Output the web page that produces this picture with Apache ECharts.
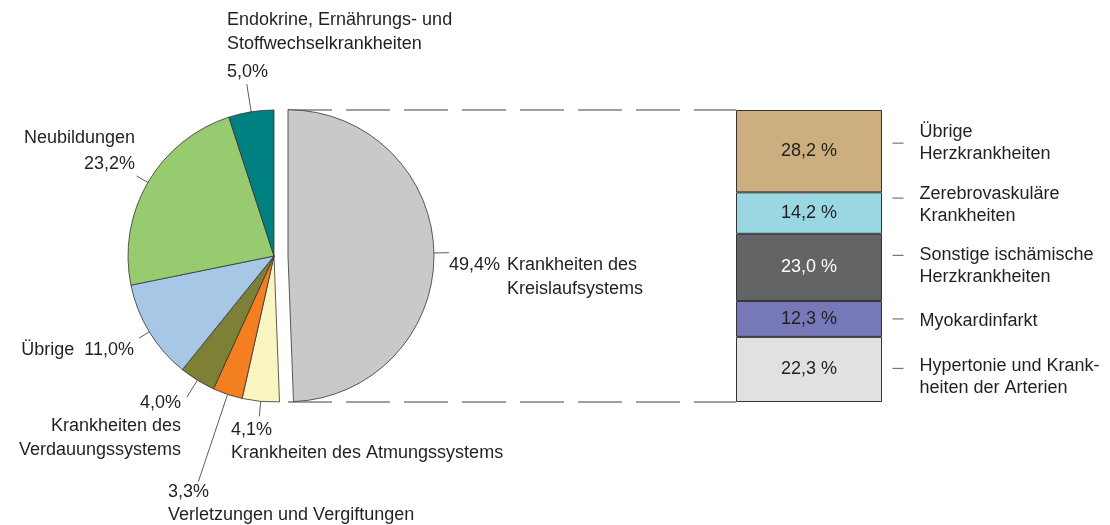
<!DOCTYPE html>
<html>
<head>
<meta charset="utf-8">
<script src="https://cdn.jsdelivr.net/npm/echarts@6/dist/echarts.min.js"></script>
<style>
html, body { margin: 0; background: #fff; }
#container { width: 1110px; height: 525px; }
</style>
</head>
<body>
<div id="container"></div>
<script>
// Todesursachen (Kreisdiagramm) und Aufschlüsselung Kreislaufsystem (Säule)
var pieNames = [
    'Krankheiten des\nKreislaufsystems',
    'Krankheiten des Atmungssystems',
    'Verletzungen und Vergiftungen',
    'Krankheiten des\nVerdauungssystems',
    'Übrige',
    'Neubildungen',
    'Endokrine, Ernährungs- und\nStoffwechselkrankheiten'
];
var pieValues = [49.4, 4.1, 3.3, 4.0, 11.0, 23.2, 5.0];
var pieColors = ['#c8c9cb', '#faf6c2', '#f47f20', '#7e8035', '#a7c7e7', '#98cb70', '#008080'];

// Säule von unten nach oben
var barNames = [
    'Hypertonie und Krank-\nheiten der Arterien',
    'Myokardinfarkt',
    'Sonstige ischämische\nHerzkrankheiten',
    'Zerebrovaskuläre\nKrankheiten',
    'Übrige\nHerzkrankheiten'
];
var barValues = [22.3, 12.3, 23.0, 14.2, 28.2];
var barColors = ['#e0e1e3', '#7778b8', '#636466', '#99d8e3', '#cdae7f'];
var barTextColors = ['#231f20', '#231f20', '#ffffff', '#231f20', '#231f20'];

var pieCx = 274, pieCy = 256, pieR = 146, explode = 14;
var barLeft = 736, barTop = 110, barW = 146, barH = 292;
var txt = '#231f20';
var fontFam = '"Liberation Sans", Arial, sans-serif';
var fs = 18;

function fmt(v) {
    return v.toFixed(1).replace('.', ',');
}

// Label-Texte
function pieLabel(i) {
    var p = fmt(pieValues[i]) + '%';
    var lines = pieNames[i].split('\n');
    switch (i) {
        case 0:
            return '{p|' + p + '}{n|' + lines[0] + '}\n{s|}{n|' + lines[1] + '}';
        case 1:
        case 2:
        case 3:
            return p + '\n' + pieNames[i];
        case 4:
            return pieNames[i] + '  ' + p;
        case 5:
            return '{r|' + pieNames[i] + '}\n{r|' + p + '}';
        case 6:
            return '{n|' + lines[0] + '}\n{n|' + lines[1] + '}\n{q|' + p + '}';
    }
}

var lineLen = [15, 15, 92, 20, 12, 13, 28];
var pieLabelPos = [
    {x: 448, y: 244, align: 'left'},
    {x: 231, y: 418, align: 'left'},
    {x: 168, y: 480, align: 'left'},
    {x: 181, y: 391, align: 'right'},
    {x: 134, y: 338, align: 'right'},
    {x: 135, y: 125, align: 'right'},
    {x: 227, y: 8, align: 'left'}
];

// kleine Versätze der Beschriftung rechts (Strich / Text)
var dashDy = [-1, 0, -12, -15, -8];
var textDy = [9, 2, 11, 7, 0];

var pieData = [];
for (let i = 0; i < pieValues.length; i++) {
    pieData.push({
        name: pieNames[i],
        value: pieValues[i],
        selected: i === 0,
        itemStyle: {color: pieColors[i]},
        label: {formatter: pieLabel(i), distanceToLabelLine: i === 0 ? 0 : 5},
        labelLine: {length: lineLen[i], length2: 0}
    });
}

var dom = document.getElementById('container');
var myChart = echarts.init(dom, null, {renderer: 'canvas'});

var cum = 0;
var barSeries = barValues.map(function (v, i) {
    var mid = cum + v / 2;
    cum += v;
    return {
        type: 'bar',
        name: barNames[i],
        stack: 'kreislauf',
        data: [v],
        barWidth: '100%',
        silent: true,
        itemStyle: {color: barColors[i], borderColor: '#333', borderWidth: 1},
        label: {
            show: true,
            position: 'inside',
            color: barTextColors[i],
            fontSize: fs,
            fontFamily: fontFam,
            formatter: function (p) { return fmt(p.value) + ' %'; }
        },
        markPoint: {
            symbol: 'rect',
            symbolSize: [11, 1.2],
            silent: true,
            itemStyle: {color: '#777'},
            label: {
                show: true,
                position: 'right',
                distance: 16,
                color: txt,
                fontSize: fs,
                lineHeight: 22,
                fontFamily: fontFam,
                formatter: '{b}'
            },
            data: [{
                name: barNames[i],
                coord: [0, mid],
                symbolOffset: [89, dashDy[i]],
                label: {offset: [0, textDy[i]]}
            }]
        }
    };
});

var option = {
    animation: false,
    textStyle: {fontFamily: fontFam},
    grid: {left: barLeft, top: barTop, width: barW, height: barH},
    xAxis: {type: 'category', data: ['Kreislauf'], show: false},
    yAxis: {type: 'value', min: 0, max: 100, show: false},
    graphic: [
        {
            type: 'line',
            silent: true,
            shape: {x1: pieCx + explode, y1: pieCy - pieR, x2: barLeft, y2: pieCy - pieR},
            style: {stroke: '#808080', lineWidth: 1.3, lineDash: [44, 14]}
        },
        {
            type: 'line',
            silent: true,
            shape: {x1: pieCx + explode, y1: pieCy + pieR, x2: barLeft, y2: pieCy + pieR},
            style: {stroke: '#808080', lineWidth: 1.3, lineDash: [44, 14]}
        }
    ],
    series: [
        {
            type: 'pie',
            center: [pieCx, pieCy],
            radius: pieR,
            startAngle: 90,
            clockwise: true,
            selectedMode: 'single',
            selectedOffset: explode,
            avoidLabelOverlap: false,
            silent: true,
            itemStyle: {borderColor: '#333', borderWidth: 0.8},
            label: {
                show: true,
                position: 'outside',
                color: txt,
                fontSize: fs,
                lineHeight: 23.5,
                fontFamily: fontFam,
                rich: {
                    p: {width: 58, fontSize: fs, lineHeight: 24, color: txt},
                    s: {width: 58, fontSize: fs, lineHeight: 24},
                    n: {fontSize: fs, lineHeight: 24, color: txt},
                    q: {fontSize: fs, lineHeight: 32, color: txt},
                    r: {fontSize: fs, lineHeight: 26, color: txt, align: 'right'}
                }
            },
            labelLine: {show: true, smooth: false, lineStyle: {color: '#333', width: 0.8}},
            labelLayout: function (p) {
                var c = pieLabelPos[p.dataIndex];
                return {
                    x: c.x,
                    y: c.y,
                    align: c.align,
                    verticalAlign: 'top',
                    labelLinePoints: p.labelLinePoints
                };
            },
            data: pieData
        }
    ].concat(barSeries)
};

myChart.setOption(option);
window.addEventListener('resize', myChart.resize);
</script>
</body>
</html>
